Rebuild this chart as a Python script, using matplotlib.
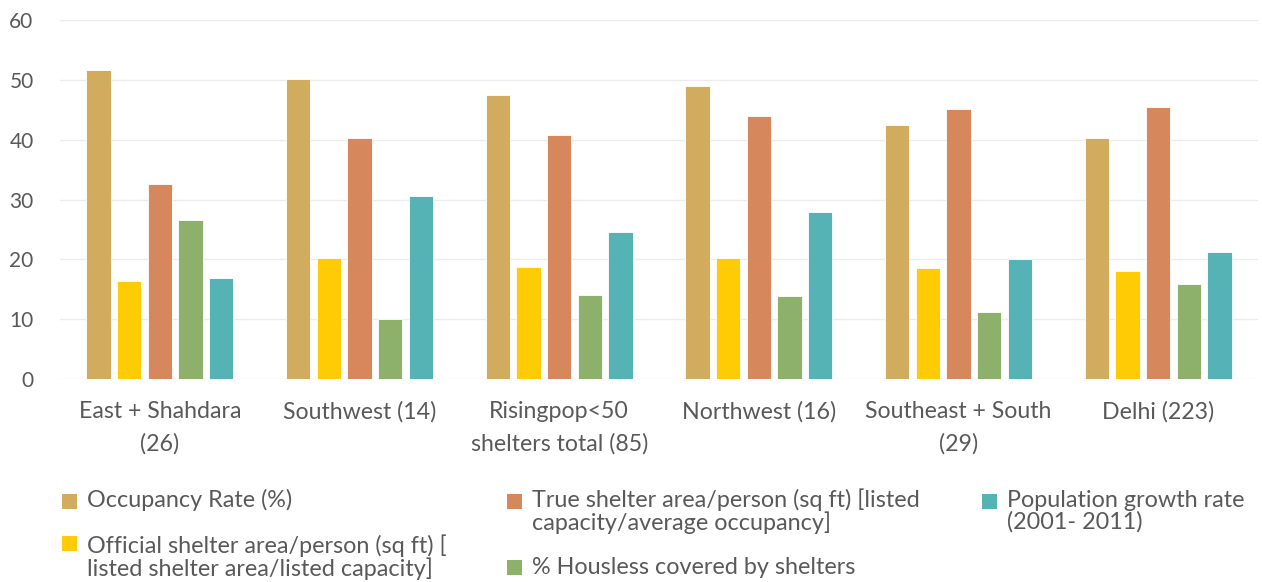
import matplotlib
matplotlib.use("Agg")
import matplotlib.pyplot as plt
from matplotlib.patches import Rectangle
import numpy as np

# Shelter survey by district (number of shelters in brackets)
districts = [
    "East + Shahdara\n(26)",
    "Southwest (14)",
    "Risingpop<50\nshelters total (85)",
    "Northwest (16)",
    "Southeast + South\n(29)",
    "Delhi (223)",
]

series_names = [
    "Occupancy Rate (%)",
    "Official shelter area/person (sq ft) [\nlisted shelter area/listed capacity]",
    "True shelter area/person (sq ft) [listed\ncapacity/average occupancy]",
    "% Housless covered by shelters",
    "Population growth rate\n(2001- 2011)",
]

occupancy_rate = [51.6, 50.2, 47.5, 49.0, 42.5, 40.3]
official_area = [16.4, 20.3, 18.7, 20.2, 18.6, 18.0]
true_area = [32.6, 40.3, 40.7, 43.9, 45.1, 45.5]
houseless_covered = [26.5, 10.1, 14.0, 13.8, 11.2, 15.8]
population_growth = [16.8, 30.6, 24.5, 27.9, 20.1, 21.2]

series_values = [occupancy_rate, official_area, true_area,
                 houseless_covered, population_growth]
colors = ["#D1AC5E", "#FECB05", "#D6875C", "#8DB16A", "#55B2B5"]

yticks = [0, 10, 20, 30, 40, 50, 60]

TEXT = "#595959"
FONT = "Lato"
plt.rcParams["font.family"] = [FONT, "DejaVu Sans"]

W, H = 1262, 582
fig = plt.figure(figsize=(W / 100, H / 100), dpi=100)
ax = fig.add_axes([60 / W, 1 - 379 / H, (1258 - 60) / W, (379 - 20) / H])

x = np.arange(len(districts))
step = 0.1537
bar_w = 0.122
for k, (vals, col) in enumerate(zip(series_values, colors)):
    ax.bar(x + (k - 2) * step, vals, width=bar_w, color=col,
           edgecolor="white", linewidth=0.6, zorder=3)

ax.set_xlim(-0.5, len(districts) - 0.5)
ax.set_ylim(0, 60)
ax.set_yticks(yticks)
ax.set_yticklabels([str(t) for t in yticks])
ax.set_xticks(x)
ax.set_xticklabels(districts, linespacing=1.62)
ax.tick_params(axis="y", length=0, pad=19, labelsize=15, labelcolor=TEXT)
ax.tick_params(axis="x", length=0, pad=16, labelsize=16.7, labelcolor=TEXT)
for lbl in ax.get_xticklabels():
    lbl.set_verticalalignment("top")
for lbl in ax.get_yticklabels():
    lbl.set_horizontalalignment("right")

ax.grid(axis="y", color="#ececec", linewidth=1.0, zorder=0)
ax.grid(axis="x", visible=False)
for s in ax.spines.values():
    s.set_visible(False)

# Legend laid out in three columns under the plot:
# (marker left, marker bottom, baseline of the label's last line)
legend_slots = [
    (62, 509, 507),
    (62, 551, 576),
    (507, 509, 530),
    (507, 575, 574),
    (982, 509, 529),
]
for name, col, (px, mb, base) in zip(series_names, colors, legend_slots):
    fig.patches.append(Rectangle((px / W, 1 - mb / H), 15 / W, 15 / H,
                                 transform=fig.transFigure, facecolor=col,
                                 edgecolor="none"))
    fig.text((px + 25) / W, 1 - base / H, name, fontsize=16.8, color=TEXT,
             va="baseline", ha="left", linespacing=1.0)

fig.savefig("out.png", dpi=100, facecolor="white")
